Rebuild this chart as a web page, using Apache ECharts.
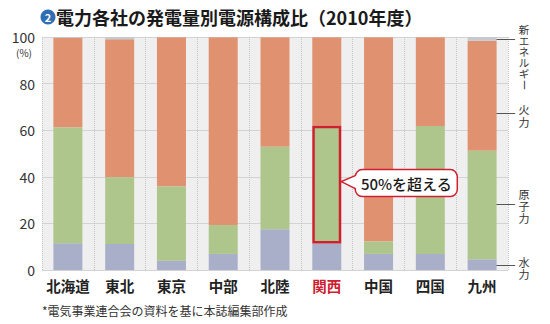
<!DOCTYPE html>
<html><head><meta charset="utf-8">
<script src="https://cdn.jsdelivr.net/npm/echarts@6/dist/echarts.min.js"></script>
<style>html,body{margin:0;padding:0;background:#fff}#c{width:550px;height:324px}</style>
</head><body><div id="c"></div>
<script>
const categories = ['北海道','東北','東京','中部','北陸','関西','中国','四国','九州'];
const hydro   = [11.5, 11.2, 4.0, 6.9, 17.5, 11.4, 6.9, 6.9, 4.6];
const nuclear = [49.7, 28.6, 31.8, 12.4, 35.4, 50.5, 5.3, 54.9, 46.6];
const thermal = [38.5, 59.2, 64.1, 80.6, 47.0, 38.0, 87.7, 38.1, 47.2];
const renew   = [0.3, 1.0, 0.1, 0.1, 0.1, 0.1, 0.1, 0.1, 1.6];
const yTicks  = [0, 20, 40, 60, 80, 100];
const highlight = '関西';
const seriesNames = ['水力','原子力','火力','新エネルギー'];
const legendAnchor = [2.2, 28.3, 67.5, 99.3]; // value positions of right-side labels
const calloutText = '50%を超える';
const titleText = '電力各社の発電量別電源構成比（2010年度）';
const noteText = '*電気事業連合会の資料を基に本誌編集部作成';

const FONT = '"Noto Sans CJK JP", "Noto Sans", sans-serif';
const colors = ['#a9afc9', '#aec68c', '#e0916f', '#c6c9cf'];
const RED = '#cf2030';
const hiIdx = categories.indexOf(highlight);

const chart = echarts.init(document.getElementById('c'), null, {renderer: 'svg'});
const mk = (arr, i) => ({
  name: seriesNames[i], type: 'bar', stack: 'all', barWidth: 29,
  itemStyle: {color: colors[i]},
  data: arr.map((v, k) => (i === 1 && k === hiIdx)
    ? {value: v, itemStyle: {borderColor: RED, borderWidth: 2.5}} : v),
  z: (i === 1) ? 3 : 2
});
chart.setOption({
  animation: false,
  textStyle: {fontFamily: FONT},
  grid: {left: 42, right: 42, top: 37, bottom: 54, show: true, backgroundColor: '#efefef', borderWidth: 0},
  xAxis: {
    type: 'category', data: categories,
    axisLine: {show: false}, axisTick: {show: false},
    splitLine: {show: true, interval: 0, lineStyle: {type: 'dotted', color: '#c4c4c4', width: 1}},
    axisLabel: {
      interval: 0, margin: 8, fontSize: 14.5, fontWeight: 'bold', color: '#222', fontFamily: FONT,
      formatter: v => v === highlight ? '{r|' + v + '}' : v,
      rich: {r: {color: RED, fontSize: 14.5, fontWeight: 'bold', fontFamily: FONT}}
    }
  },
  yAxis: {
    type: 'value', min: yTicks[0], max: yTicks[yTicks.length - 1], interval: 20,
    axisLine: {show: false}, axisTick: {show: false},
    splitLine: {lineStyle: {color: '#d3d3d3', width: 1}},
    axisLabel: {margin: 7, fontSize: 14, color: '#333', fontFamily: FONT}
  },
  series: [mk(hydro, 0), mk(nuclear, 1), mk(thermal, 2), mk(renew, 3)]
});

// annotations
const p = (c, v) => chart.convertToPixel({xAxisIndex: 0, yAxisIndex: 0}, [c, v]);
const last = categories[categories.length - 1];
const g = [];
// title
g.push({type: 'circle', shape: {cx: 48, cy: 17, r: 7.5}, style: {fill: '#2f6db4'}});
g.push({type: 'text', x: 48, y: 17, style: {text: '2', fill: '#fff', font: 'bold 11px ' + FONT, textAlign: 'center', textVerticalAlign: 'middle'}});
g.push({type: 'text', x: 56, y: 17, style: {text: titleText, fill: '#1a1a1a', font: 'bold 18px ' + FONT, textVerticalAlign: 'middle'}});
// (%)
g.push({type: 'text', x: 24, y: 52, style: {text: '(%)', fill: '#333', font: '10px ' + FONT, textAlign: 'center', textVerticalAlign: 'middle'}});
// footnote
g.push({type: 'text', x: 42, y: 310, style: {text: noteText, fill: '#333', font: '12px ' + FONT, textVerticalAlign: 'middle'}});
// right-side series labels with leader lines (vertical text, one glyph per element)
const lx = p(last, 0)[0] + 13;
const labelDefs = [
  {txt: seriesNames[0], a: legendAnchor[0], top: -10, step: 12.5, fs: 11},
  {txt: seriesNames[1], a: legendAnchor[1], top: -17, step: 12, fs: 11},
  {txt: seriesNames[2], a: legendAnchor[2], top: -11, step: 13, fs: 11},
  {txt: seriesNames[3], a: legendAnchor[3], top: -16, step: 11.2, fs: 10.5}
];
labelDefs.forEach(d => {
  const y = Math.round(p(last, d.a)[1]) + 0.5;
  g.push({type: 'line', shape: {x1: lx, y1: y, x2: lx + 20, y2: y}, style: {stroke: '#555', lineWidth: 1}});
  Array.from(d.txt).forEach((ch, j) => {
    const cy = y + d.top + j * d.step + d.step / 2;
    const el = {type: 'text', x: lx + 29, y: cy,
      style: {text: ch, fill: '#333', font: d.fs + 'px ' + FONT, lineHeight: d.step - 1, textAlign: 'center', textVerticalAlign: 'middle'}};
    if (ch === 'ー') el.rotation = -Math.PI / 2;
    g.push(el);
  });
});
// callout
const mid = (hydro[hiIdx] + hydro[hiIdx] + nuclear[hiIdx]) / 2;
const cp = p(highlight, mid);
const tx = cp[0] + 14.5, ty = cp[1] - 3;
const x0 = tx + 14, x1 = tx + 116, y0 = ty - 12, y1 = ty + 15, yA = ty - 6, yB = ty + 7;
g.push({type: 'rect', shape: {x: x0, y: y0, width: x1 - x0, height: y1 - y0, r: 7}, style: {fill: '#fff', stroke: RED, lineWidth: 1.5}, z: 10});
g.push({type: 'polygon', shape: {points: [[x0 + 1.5, yA], [tx, ty], [x0 + 1.5, yB]]}, style: {fill: '#fff'}, z: 11});
g.push({type: 'polyline', shape: {points: [[x0, yA], [tx, ty], [x0, yB]]}, style: {stroke: RED, lineWidth: 1.5, fill: null}, z: 12});
g.push({type: 'text', x: (x0 + x1) / 2, y: (y0 + y1) / 2, z: 13, style: {text: calloutText, fill: '#1a1a1a', font: '500 15px ' + FONT, textAlign: 'center', textVerticalAlign: 'middle'}});
chart.setOption({graphic: {elements: g}});
</script></body></html>
